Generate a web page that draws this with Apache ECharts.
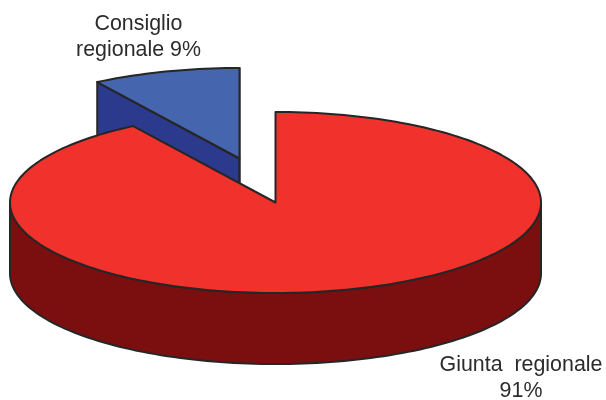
<!DOCTYPE html>
<html>
<head>
<meta charset="utf-8">
<style>html,body{margin:0;padding:0;background:#fff}#chart{width:606px;height:400px}</style>
<script src="https://cdn.jsdelivr.net/npm/echarts@6/dist/echarts.min.js"></script>
</head>
<body>
<div id="chart"></div>
<script>
// Percentage shares, clockwise order starts with Giunta at twelve o'clock
const categories = ['Giunta regionale', 'Consiglio regionale'];
const shares = [91, 9];
const sliceLabels = ['Giunta  regionale\n91%', 'Consiglio\nregionale 9%'];

const topColors = ['#f1312c', '#4566ae'];
const sideColors = ['#7b0f10', '#2b3a8c'];
const edgeColor = '#262626';
const textColor = '#2b2b2b';

// Pie projection: elliptical top face, extruded downwards
const pie = { cx: 275.5, cy: 202.5, rx: 265.5, ry: 90.5, depth: 71 };
const explode = [[0, 0], [-36, -44]];
const labelAnchors = [[521, 378.5], [138.5, 37.5]];

const total = shares.reduce((a, b) => a + b, 0);

function rimPoint(deg, ox, oy, drop) {
  const t = deg * Math.PI / 180;
  return [pie.cx + ox + pie.rx * Math.sin(t), pie.cy + oy - pie.ry * Math.cos(t) + drop];
}

function arc(from, to, ox, oy, drop) {
  const pts = [];
  const steps = Math.max(2, Math.ceil(Math.abs(to - from) / 1.5));
  for (let i = 0; i <= steps; i++) {
    pts.push(rimPoint(from + (to - from) * i / steps, ox, oy, drop));
  }
  return pts;
}

function renderSlice(params, api) {
  const idx = params.dataIndex;
  let start = 0;
  for (let i = 0; i < idx; i++) start += shares[i] / total * 360;
  const end = start + api.value(1) / total * 360;
  const [ox, oy] = explode[idx];
  const apex = [pie.cx + ox, pie.cy + oy];
  const apexLow = [apex[0], apex[1] + pie.depth];
  const edge = { stroke: edgeColor, lineWidth: 2, lineJoin: 'round' };
  const children = [];

  // Radial walls of a slice lying entirely in the far-left quadrant
  if (start > 270) {
    children.push({
      type: 'polygon',
      shape: { points: [rimPoint(start, ox, oy, 0), apex, apexLow, rimPoint(start, ox, oy, pie.depth)] },
      style: Object.assign({ fill: sideColors[idx] }, edge)
    });
    children.push({
      type: 'polygon',
      shape: { points: [apex, rimPoint(end, ox, oy, 0), rimPoint(end, ox, oy, pie.depth), apexLow] },
      style: Object.assign({ fill: sideColors[idx] }, edge)
    });
  }

  // Outer wall on the near half of the rim
  const wallFrom = Math.max(start, 90);
  const wallTo = Math.min(end, 270);
  if (wallTo > wallFrom) {
    const upper = arc(wallFrom, wallTo, ox, oy, 0);
    const lower = arc(wallTo, wallFrom, ox, oy, pie.depth);
    children.push({
      type: 'polygon',
      shape: { points: upper.concat(lower) },
      style: Object.assign({ fill: sideColors[idx] }, edge)
    });
  }

  // Top face
  children.push({
    type: 'polygon',
    shape: { points: [apex].concat(arc(start, end, ox, oy, 0)) },
    style: Object.assign({ fill: topColors[idx] }, edge)
  });

  // Slice caption
  children.push({
    type: 'text',
    z2: 10,
    style: {
      x: labelAnchors[idx][0],
      y: labelAnchors[idx][1],
      text: sliceLabels[idx],
      fill: textColor,
      font: '21.4px "Liberation Sans", Arial, sans-serif',
      lineHeight: 26,
      align: 'center',
      verticalAlign: 'middle'
    }
  });

  return { type: 'group', children };
}

const chart = echarts.init(document.getElementById('chart'), null, { renderer: 'canvas' });

// Consiglio is painted first so the large slice overlaps its walls
const paintOrder = [1, 0];

chart.setOption({
  animation: false,
  backgroundColor: '#ffffff',
  series: paintOrder.map(i => ({
    type: 'custom',
    name: categories[i],
    coordinateSystem: 'none',
    silent: true,
    renderItem: (params, api) => renderSlice({ dataIndex: i }, api),
    data: [[i, shares[i]]]
  }))
});
</script>
</body>
</html>
